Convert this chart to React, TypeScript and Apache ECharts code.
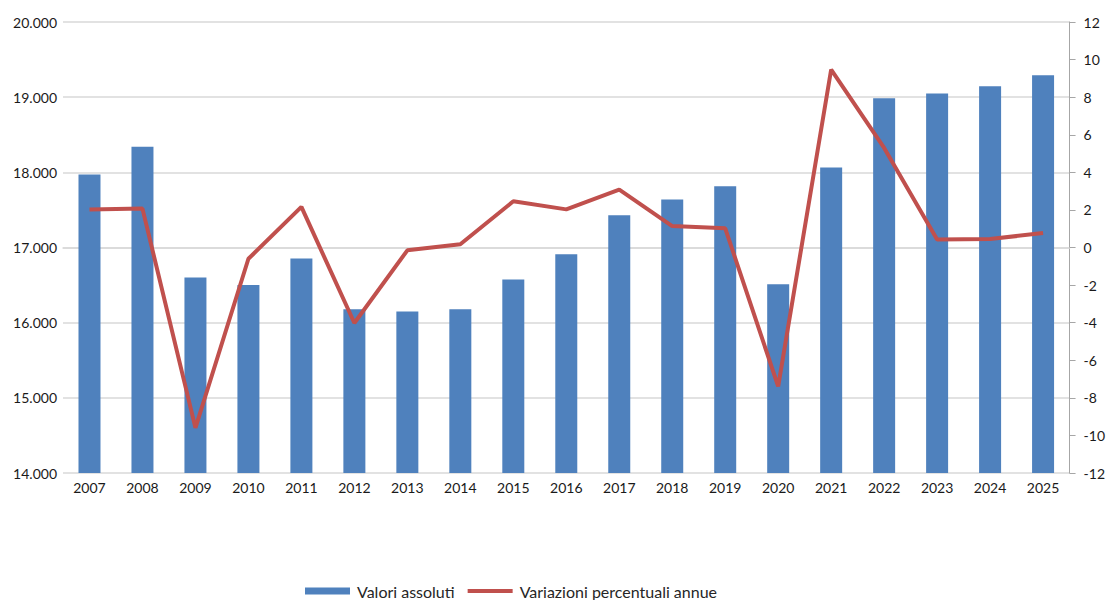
import React, { useEffect, useRef } from "react";
import * as echarts from "echarts";

const years = ["2007","2008","2009","2010","2011","2012","2013","2014","2015","2016","2017","2018","2019","2020","2021","2022","2023","2024","2025"];
const absoluteValues = [17970,18340,16600,16500,16855,16180,16150,16180,16575,16910,17430,17640,17815,16510,18065,18985,19050,19145,19290];
const pctChanges = [2.02,2.07,-9.6,-0.6,2.16,-4.02,-0.15,0.17,2.46,2.03,3.08,1.14,1.02,-7.39,9.47,5.3,0.42,0.45,0.77];
const seriesNames = ["Valori assoluti", "Variazioni percentuali annue"];

const FONT = "Lato, Carlito, 'Open Sans', sans-serif";

export default function App() {
  const ref = useRef<HTMLDivElement>(null);
  useEffect(() => {
    if (!ref.current) return;
    const chart = echarts.init(ref.current, undefined, { renderer: "svg" });
    chart.setOption({
      animation: false,
      backgroundColor: "#ffffff",
      textStyle: { fontFamily: FONT },
      grid: { left: 63, right: 37, top: 22, bottom: 127, containLabel: false },
      legend: {
        left: 305,
        top: 583,
        padding: 0,
        itemGap: 13,
        itemWidth: 45,
        itemHeight: 7,
        symbolKeepAspect: true,
        textStyle: { fontFamily: FONT, fontSize: 16, lineHeight: 16, color: "#262626", padding: [0, 0, 0, 2] },
        data: [
          { name: seriesNames[0], icon: "rect" },
          { name: seriesNames[1], icon: "path://M0,0h45v4h-45z" },
        ],
      },
      xAxis: {
        type: "category",
        data: years,
        axisLine: { show: true, lineStyle: { color: "#D9D9D9", width: 1.5 } },
        axisTick: { show: false },
        axisLabel: { color: "#1a1a1a", fontSize: 14, fontFamily: FONT, margin: 7 },
      },
      yAxis: [
        {
          type: "value",
          min: 14000,
          max: 20000,
          interval: 1000,
          axisLine: { show: false },
          axisTick: { show: false },
          splitLine: { lineStyle: { color: "#D9D9D9", width: 1.5 } },
          axisLabel: {
            color: "#1a1a1a",
            fontSize: 14,
            fontFamily: FONT,
            margin: 6,
            formatter: (v: number) => String(v).replace(/\B(?=(\d{3})+(?!\d))/g, "."),
          },
        },
        {
          type: "value",
          min: -12,
          max: 12,
          interval: 2,
          position: "right",
          axisLine: { show: true, lineStyle: { color: "#A6A6A6", width: 1 } },
          axisTick: { show: true, length: 6, lineStyle: { color: "#A6A6A6" } },
          splitLine: { show: false },
          axisLabel: { color: "#1a1a1a", fontSize: 14, fontFamily: FONT, margin: 14 },
        },
      ],
      series: [
        {
          name: seriesNames[0],
          type: "bar",
          data: absoluteValues,
          yAxisIndex: 0,
          barWidth: 22,
          itemStyle: { color: "#4F81BD" },
        },
        {
          name: seriesNames[1],
          type: "line",
          data: pctChanges,
          yAxisIndex: 1,
          symbol: "none",
          lineStyle: { color: "#C0504D", width: 4 },
          itemStyle: { color: "#C0504D" },
        },
      ],
    });
    return () => chart.dispose();
  }, []);
  return (
    <div
      ref={ref}
      style={{ position: "fixed", left: 0, top: 0, width: 1108, height: 600, background: "#fff" }}
    />
  );
}
